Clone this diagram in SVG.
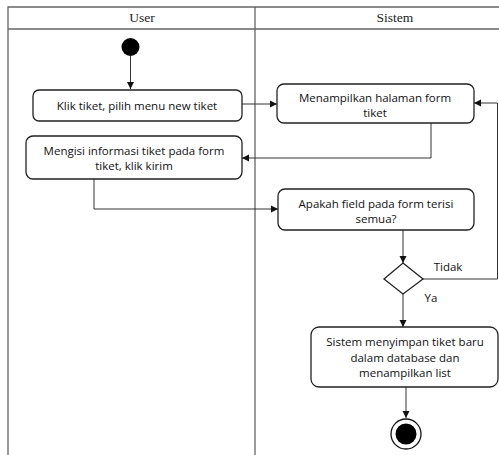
<svg xmlns="http://www.w3.org/2000/svg" width="499" height="455" viewBox="0 0 499 455">
  <style>
    .lane { stroke: #666; stroke-width: 1.3; fill: none; }
    .head { font-family: "Liberation Serif", serif; font-size: 13.5px; fill: #222; text-anchor: middle; }
    .act { fill: #fff; stroke: #222; stroke-width: 1.3; }
    .lbl { font-family: "Open Sans", "Liberation Sans", sans-serif; font-size: 11.5px; fill: #111; text-anchor: middle; }
    .flow { stroke: #333; stroke-width: 1; fill: none; marker-end: url(#arrow); }
  </style>
  <defs>
    <marker id="arrow" markerWidth="8" markerHeight="8" refX="7" refY="4" orient="auto" markerUnits="userSpaceOnUse">
      <path d="M0,0.5 L7,4 L0,7.5 Z" fill="#111"/>
    </marker>
  </defs>
  <rect width="499" height="455" fill="#fff"/>

  <!-- swimlanes -->
  <g id="lanes">
    <path class="lane" d="M8,455 V7 H499 M8,29 H499 M255,7 V455"/>
    <text class="head" x="142" y="22">User</text>
    <text class="head" x="395" y="22">Sistem</text>
  </g>

  <!-- connectors -->
  <g id="connectors">
    <path class="flow" d="M130.5,56 V89"/>
    <path class="flow" d="M242,104 H277"/>
    <path class="flow" d="M431,123 V158 H242"/>
    <path class="flow" d="M94,179 V209 H278"/>
    <path class="flow" d="M403,230 V263"/>
    <path class="flow" d="M423,279 H497.5 V103 H474"/>
    <path class="flow" d="M403,294 V327"/>
    <path class="flow" d="M406,387 V418"/>
  </g>

  <g id="start">
    <circle cx="130.5" cy="47" r="9" fill="#000"/>
  </g>

  <g id="klik-tiket">
    <rect class="act" x="33" y="90" width="209" height="31" rx="6"/>
    <text class="lbl" x="137" y="109.5">Klik tiket, pilih menu new tiket</text>
  </g>

  <g id="mengisi-informasi">
    <rect class="act" x="26" y="136" width="216" height="43" rx="7"/>
    <text class="lbl" x="134" y="154.5">Mengisi informasi tiket pada form</text>
    <text class="lbl" x="134" y="170">tiket, klik kirim</text>
  </g>

  <g id="menampilkan-form">
    <rect class="act" x="277" y="84" width="197" height="39" rx="7"/>
    <text class="lbl" x="375" y="101.5">Menampilkan halaman form</text>
    <text class="lbl" x="375" y="117">tiket</text>
  </g>

  <g id="cek-field">
    <rect class="act" x="278" y="189" width="196" height="41" rx="7"/>
    <text class="lbl" x="376" y="207.5">Apakah field pada form terisi</text>
    <text class="lbl" x="376" y="223">semua?</text>
  </g>

  <g id="keputusan">
    <path class="act" d="M403,263 L423,279 L403,294 L384,279 Z"/>
    <text class="lbl" x="448" y="271">Tidak</text>
    <text class="lbl" x="431" y="302">Ya</text>
  </g>

  <g id="simpan-tiket">
    <rect class="act" x="311" y="327" width="187" height="60" rx="8"/>
    <text class="lbl" x="405" y="346">Sistem menyimpan tiket baru</text>
    <text class="lbl" x="405" y="361.5">dalam database dan</text>
    <text class="lbl" x="405" y="377">menampilkan list</text>
  </g>

  <g id="end">
    <circle cx="406" cy="434" r="15" fill="#fff" stroke="#111" stroke-width="1.3"/>
    <circle cx="406" cy="434" r="10.5" fill="#000"/>
  </g>
</svg>
